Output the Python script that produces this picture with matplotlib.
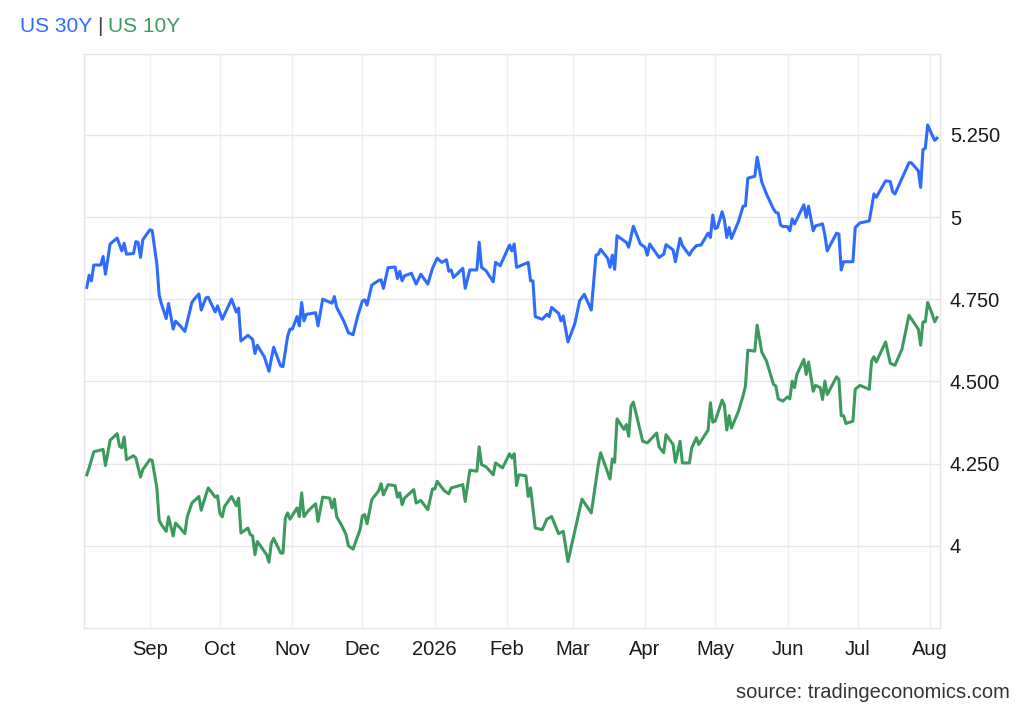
import matplotlib.pyplot as plt
import matplotlib.dates as mdates
import pandas as pd

# days counted from 2025-08-04
start = pd.Timestamp("2025-08-04")

days30 = [1, 2, 3, 4, 7, 8, 9, 11, 14, 16, 17, 18, 21, 22, 23, 24, 25, 28, 29, 31,
          32, 33, 35, 36, 38, 39, 41, 43, 46, 47, 49, 50, 52, 53, 56, 57, 59, 63, 65, 66,
          67, 70, 72, 73, 74, 77, 79, 81, 84, 85, 87, 88, 89, 91, 92, 93, 94, 95, 99, 100,
          102, 106, 107, 108, 111, 113, 115, 117, 119, 120, 121, 123, 126, 127, 128, 130, 133, 134, 135, 136,
          137, 140, 142, 144, 147, 149, 151, 153, 155, 156, 157, 158, 162, 163, 165, 168, 169, 170, 172, 175,
          176, 178, 182, 183, 184, 185, 190, 191, 192, 193, 196, 198, 199, 200, 203, 204, 205, 207, 210, 212,
          214, 217, 219, 220, 221, 224, 225, 226, 227, 228, 231, 232, 233, 235, 238, 240, 241, 242, 246, 248,
          249, 252, 253, 255, 256, 259, 260, 262, 264, 267, 268, 269, 270, 271, 273, 274, 275, 276, 277, 280,
          282, 283, 284, 287, 288, 290, 292, 295, 296, 297, 298, 299, 301, 302, 303, 304, 308, 309, 310, 312,
          313, 316, 317, 318, 322, 323, 324, 325, 329, 330, 332, 336, 338, 339, 343, 345, 346, 347, 353, 354,
          357, 358, 359, 360, 361, 363, 364, 365]
us30 = [4.786, 4.823, 4.806, 4.854, 4.854, 4.880, 4.826, 4.918, 4.936, 4.897, 4.920, 4.887, 4.889, 4.925, 4.923, 4.877, 4.931, 4.961, 4.959, 4.857,
        4.762, 4.735, 4.691, 4.737, 4.659, 4.683, 4.669, 4.652, 4.740, 4.750, 4.766, 4.717, 4.754, 4.756, 4.711, 4.730, 4.689, 4.750, 4.711, 4.723,
        4.623, 4.640, 4.628, 4.585, 4.610, 4.575, 4.531, 4.604, 4.547, 4.545, 4.638, 4.659, 4.659, 4.697, 4.669, 4.740, 4.684, 4.704, 4.709, 4.669,
        4.750, 4.738, 4.758, 4.725, 4.684, 4.648, 4.642, 4.699, 4.745, 4.748, 4.732, 4.793, 4.807, 4.809, 4.783, 4.846, 4.848, 4.813, 4.835, 4.806,
        4.821, 4.829, 4.796, 4.826, 4.796, 4.844, 4.875, 4.862, 4.870, 4.835, 4.839, 4.816, 4.844, 4.783, 4.839, 4.839, 4.923, 4.847, 4.836, 4.803,
        4.862, 4.852, 4.915, 4.897, 4.918, 4.847, 4.862, 4.806, 4.806, 4.697, 4.689, 4.704, 4.697, 4.725, 4.707, 4.684, 4.699, 4.620, 4.677, 4.745,
        4.765, 4.717, 4.884, 4.887, 4.902, 4.874, 4.847, 4.884, 4.841, 4.943, 4.928, 4.923, 4.908, 4.972, 4.918, 4.908, 4.884, 4.918, 4.877, 4.887,
        4.916, 4.900, 4.864, 4.935, 4.913, 4.884, 4.897, 4.913, 4.915, 4.951, 4.938, 5.006, 4.965, 4.968, 5.016, 4.989, 4.938, 4.968, 4.935, 4.986,
        5.033, 5.034, 5.118, 5.124, 5.182, 5.106, 5.070, 5.024, 5.014, 5.012, 4.976, 4.971, 4.971, 4.958, 4.994, 4.979, 5.037, 4.999, 5.033, 4.958,
        4.973, 4.979, 4.945, 4.897, 4.951, 4.948, 4.839, 4.864, 4.864, 4.968, 4.982, 4.988, 5.070, 5.060, 5.110, 5.108, 5.077, 5.070, 5.165, 5.165,
        5.141, 5.090, 5.205, 5.209, 5.280, 5.248, 5.233, 5.240]

days10 = [1, 2, 4, 7, 8, 9, 11, 14, 15, 16, 17, 18, 21, 22, 24, 25, 28, 29, 31, 32,
          33, 35, 36, 38, 39, 41, 43, 44, 46, 49, 50, 52, 53, 56, 57, 58, 59, 60, 63, 65,
          66, 67, 70, 71, 72, 73, 74, 77, 78, 79, 80, 81, 84, 85, 86, 87, 88, 91, 92, 93,
          94, 96, 99, 100, 102, 105, 106, 107, 108, 110, 112, 113, 115, 118, 119, 120, 121, 123, 126, 127,
          128, 130, 133, 134, 135, 136, 137, 141, 142, 144, 147, 149, 150, 151, 154, 156, 157, 162, 163, 165,
          168, 169, 170, 172, 175, 176, 179, 182, 183, 184, 185, 186, 189, 190, 191, 193, 196, 198, 200, 203,
          205, 207, 213, 217, 220, 221, 225, 226, 227, 228, 231, 232, 233, 234, 235, 239, 241, 245, 246, 248,
          249, 252, 253, 255, 256, 259, 260, 262, 263, 267, 268, 269, 270, 273, 274, 275, 276, 277, 280, 282,
          283, 284, 287, 288, 290, 292, 295, 296, 297, 299, 301, 302, 303, 304, 305, 308, 309, 310, 312, 313,
          315, 316, 317, 318, 322, 323, 324, 325, 326, 329, 330, 332, 336, 337, 338, 339, 343, 345, 347, 350,
          353, 357, 358, 359, 360, 361, 363, 364, 365]
us10 = [4.216, 4.237, 4.286, 4.291, 4.293, 4.244, 4.321, 4.341, 4.303, 4.298, 4.331, 4.262, 4.274, 4.267, 4.209, 4.232, 4.262, 4.260, 4.176, 4.077,
        4.064, 4.044, 4.088, 4.030, 4.069, 4.054, 4.037, 4.088, 4.130, 4.150, 4.108, 4.155, 4.176, 4.148, 4.152, 4.098, 4.088, 4.120, 4.150, 4.122,
        4.145, 4.039, 4.054, 4.034, 4.030, 3.973, 4.013, 3.983, 3.973, 3.950, 4.008, 4.023, 3.978, 3.978, 4.084, 4.100, 4.081, 4.115, 4.089, 4.161,
        4.089, 4.108, 4.128, 4.074, 4.148, 4.145, 4.115, 4.142, 4.088, 4.064, 4.034, 4.000, 3.990, 4.049, 4.091, 4.095, 4.067, 4.140, 4.168, 4.189,
        4.155, 4.186, 4.183, 4.148, 4.161, 4.125, 4.145, 4.171, 4.130, 4.138, 4.110, 4.173, 4.173, 4.196, 4.168, 4.158, 4.176, 4.186, 4.135, 4.230,
        4.227, 4.301, 4.247, 4.240, 4.216, 4.252, 4.237, 4.280, 4.267, 4.280, 4.183, 4.216, 4.213, 4.150, 4.176, 4.054, 4.049, 4.081, 4.089, 4.037,
        4.044, 3.952, 4.142, 4.100, 4.247, 4.283, 4.203, 4.264, 4.254, 4.386, 4.354, 4.369, 4.333, 4.425, 4.437, 4.318, 4.313, 4.343, 4.301, 4.283,
        4.338, 4.308, 4.254, 4.318, 4.252, 4.252, 4.298, 4.329, 4.308, 4.352, 4.435, 4.376, 4.379, 4.443, 4.427, 4.352, 4.396, 4.358, 4.409, 4.457,
        4.486, 4.595, 4.592, 4.671, 4.589, 4.562, 4.491, 4.486, 4.447, 4.440, 4.453, 4.447, 4.501, 4.481, 4.521, 4.567, 4.521, 4.559, 4.470, 4.488,
        4.481, 4.445, 4.501, 4.460, 4.514, 4.506, 4.396, 4.396, 4.372, 4.379, 4.476, 4.488, 4.476, 4.562, 4.575, 4.559, 4.620, 4.555, 4.549, 4.598,
        4.701, 4.659, 4.610, 4.681, 4.681, 4.740, 4.704, 4.681, 4.694]

yticks = [4.0, 4.25, 4.5, 4.75, 5.0, 5.25]
ylabels = ["4", "4.250", "4.500", "4.750", "5", "5.250"]

blue = "#2f6bff"
green = "#3d9a5f"

plt.rcParams["font.family"] = ["Liberation Sans", "DejaVu Sans"]

dates30 = start + pd.to_timedelta(days30, unit="D")
dates10 = start + pd.to_timedelta(days10, unit="D")

fig = plt.figure(figsize=(10.24, 7.10), dpi=100)
ax = fig.add_axes([0.082, 0.1155, 0.836, 0.809])

ax.plot(dates30, us30, color=blue, lw=2.2, solid_joinstyle="round")
ax.plot(dates10, us10, color=green, lw=2.2, solid_joinstyle="round")

ax.set_ylim(3.75, 5.497)
ax.set_xlim(start - pd.Timedelta(days=0.2), start + pd.Timedelta(days=366.3))

ax.yaxis.tick_right()
ax.set_yticks(yticks)
ax.set_yticklabels(ylabels)

ax.xaxis.set_major_locator(mdates.MonthLocator())
ax.xaxis.set_major_formatter(
    plt.FuncFormatter(lambda x, pos: mdates.num2date(x).strftime("%Y" if mdates.num2date(x).month == 1 else "%b")))

ax.tick_params(axis="both", length=0, labelsize=14.5, colors="#1a1a1a")
ax.tick_params(axis="y", pad=7)
ax.tick_params(axis="x", pad=9)

ax.grid(axis="y", color="#e6e6e6", lw=1.0)
ax.grid(axis="x", color="#edf1f5", lw=1.0)
ax.set_axisbelow(True)
for s in ax.spines.values():
    s.set_color("#e6e6e6")
    s.set_linewidth(1.0)

# header legend
t1 = fig.text(20 / 1024, 1 - 27 / 710, "US 30Y", color=blue, fontsize=15, va="center")
fig.canvas.draw()
r = fig.canvas.get_renderer()
bb = t1.get_window_extent(r)
t2 = fig.text((bb.x1 + 5) / 1024, 1 - 27 / 710, "|", color="#444444", fontsize=15, va="center")
bb2 = t2.get_window_extent(r)
fig.text((bb2.x1 + 5) / 1024, 1 - 27 / 710, "US 10Y", color=green, fontsize=15, va="center")

fig.text(1010 / 1024, 1 - 693 / 710, "source: tradingeconomics.com", color="#333333",
         fontsize=14.5, ha="right", va="center")

fig.savefig("out.png", dpi=100)
